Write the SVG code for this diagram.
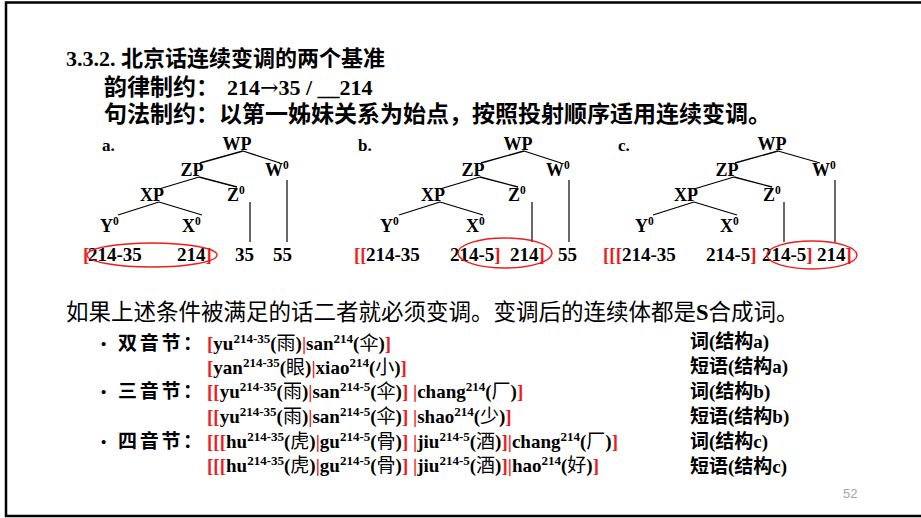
<svg xmlns="http://www.w3.org/2000/svg" width="921" height="518" viewBox="0 0 921 518">
<style>
.t{font-family:"Liberation Serif","Noto Sans CJK SC",serif;font-weight:bold;fill:#000}
.n{font-weight:normal}
.zh{font-family:"Noto Sans CJK SC",sans-serif}
.r{fill:#ee1c1c}
.tl{font-size:18px}
.num{font-size:19px}
.ex{font-size:19px}
.lab{font-family:"Noto Sans CJK SC",sans-serif;font-weight:bold;font-size:19px;letter-spacing:2.7px}
.sup{font-size:13px}
.s0{font-size:11.5px}
.edge{stroke:#000;stroke-width:1.3;fill:none}
.vl{stroke:#444;stroke-width:1.6;fill:none}
.ring{stroke:#ee1c1c;stroke-width:1.4;fill:none}
</style>
<rect x="0" y="0" width="921" height="518" fill="#fff"/>
<path d="M930 2.5H6V516H930" fill="none" stroke="#000" stroke-width="2.5"/>

<g id="heading">
<text class="t" x="66" y="66" font-size="22">3.3.2. 北京话连续变调的两个基准</text>
<text class="t" x="104" y="95" font-size="23">韵律制约：<tspan font-size="22" x="227">214<tspan font-family="DejaVu Serif, serif" font-weight="normal">→</tspan>35 / __214</tspan></text>
<text class="t" x="104" y="122" font-size="23">句法制约：以第一姊妹关系为始点，按照投射顺序适用连续变调。</text>
</g>

<g id="connectors">
<path class="edge" d="M243 151L200 163M243 151L280 163M199 177L159 189M199 177L237 187M159 202L118 215M159 202L202 215"/>
<path class="vl" d="M250 202V242M287 180V242"/>
<path class="edge" d="M524 151L481 163M524 151L561 163M480 177L440 189M480 177L518 187M440 202L399 215M440 202L483 215"/>
<path class="vl" d="M532 202V242M569 180V242"/>
<path class="edge" d="M778 151L735 163M778 151L820 163M734 177L694 189M734 177L772 187M694 202L653 215M694 202L737 215"/>
<path class="vl" d="M784 202V242M835 180V242"/>
</g>

<g id="tree-a">
<text class="t" x="102" y="151" font-size="17">a.</text>
<g id="a-WP"><text class="t tl" x="237" y="150" text-anchor="middle">WP</text></g>
<g id="a-ZP"><text class="t tl" x="192" y="176" text-anchor="middle">ZP</text></g>
<g id="a-W0"><text class="t tl" x="265" y="176">W<tspan class="s0" dy="-7">0</tspan></text></g>
<g id="a-XP"><text class="t tl" x="152" y="201" text-anchor="middle">XP</text></g>
<g id="a-Z0"><text class="t tl" x="227" y="201">Z<tspan class="s0" dy="-7">0</tspan></text></g>
<g id="a-Y0"><text class="t tl" x="100" y="232">Y<tspan class="s0" dy="-7">0</tspan></text></g>
<g id="a-X0"><text class="t tl" x="182" y="232">X<tspan class="s0" dy="-7">0</tspan></text></g>
<g id="a-row">
<text class="t num r" x="83" y="261">[</text>
<text class="t num" x="88" y="261">214-35</text>
<text class="t num" x="177" y="261">214<tspan class="r">]</tspan></text>
<text class="t num" x="235" y="261">35</text>
<text class="t num" x="273" y="261">55</text>
<ellipse class="ring" cx="152" cy="255" rx="65" ry="12"/>
</g>
</g>

<g id="tree-b">
<text class="t" x="358" y="151" font-size="17">b.</text>
<g id="b-WP"><text class="t tl" x="518" y="150" text-anchor="middle">WP</text></g>
<g id="b-ZP"><text class="t tl" x="473" y="176" text-anchor="middle">ZP</text></g>
<g id="b-W0"><text class="t tl" x="546" y="176">W<tspan class="s0" dy="-7">0</tspan></text></g>
<g id="b-XP"><text class="t tl" x="433" y="201" text-anchor="middle">XP</text></g>
<g id="b-Z0"><text class="t tl" x="508" y="201">Z<tspan class="s0" dy="-7">0</tspan></text></g>
<g id="b-Y0"><text class="t tl" x="380" y="232">Y<tspan class="s0" dy="-7">0</tspan></text></g>
<g id="b-X0"><text class="t tl" x="466" y="232">X<tspan class="s0" dy="-7">0</tspan></text></g>
<g id="b-row">
<text class="t num r" x="354" y="261">[[</text>
<text class="t num" x="366" y="261">214-35</text>
<text class="t num" x="450" y="261">214-5<tspan class="r">]</tspan></text>
<text class="t num" x="510" y="261">214<tspan class="r">]</tspan></text>
<text class="t num" x="558" y="261">55</text>
<ellipse class="ring" cx="505" cy="253" rx="47" ry="15"/>
</g>
</g>

<g id="tree-c">
<text class="t" x="618" y="151" font-size="17">c.</text>
<g id="c-WP"><text class="t tl" x="772" y="150" text-anchor="middle">WP</text></g>
<g id="c-ZP"><text class="t tl" x="727" y="176" text-anchor="middle">ZP</text></g>
<g id="c-W0"><text class="t tl" x="812" y="176">W<tspan class="s0" dy="-7">0</tspan></text></g>
<g id="c-XP"><text class="t tl" x="686" y="201" text-anchor="middle">XP</text></g>
<g id="c-Z0"><text class="t tl" x="763" y="201">Z<tspan class="s0" dy="-7">0</tspan></text></g>
<g id="c-Y0"><text class="t tl" x="635" y="232">Y<tspan class="s0" dy="-7">0</tspan></text></g>
<g id="c-X0"><text class="t tl" x="720" y="232">X<tspan class="s0" dy="-7">0</tspan></text></g>
<g id="c-row">
<text class="t num r" x="603" y="261">[[[</text>
<text class="t num" x="622" y="261">214-35</text>
<text class="t num" x="706" y="261">214-5<tspan class="r">]</tspan></text>
<text class="t num" x="762" y="261">214-5<tspan class="r">]</tspan></text>
<text class="t num" x="817" y="261">214<tspan class="r">]</tspan></text>
<ellipse class="ring" cx="812" cy="255" rx="45" ry="14"/>
</g>
</g>

<g id="statement">
<text class="t n" x="66" y="320" font-size="22.5">如果上述条件被满足的话二者就必须变调。变调后的连续体都是<tspan font-family="Liberation Serif, serif" font-weight="bold">S</tspan>合成词。</text>
</g>

<g id="examples">
<text class="t" x="101" y="349" font-size="15">•</text>
<text class="lab" x="118" y="350">双音节：</text>
<text class="t" x="101" y="397" font-size="15">•</text>
<text class="lab" x="118" y="398">三音节：</text>
<text class="t" x="101" y="447" font-size="15">•</text>
<text class="lab" x="118" y="448">四音节：</text>

<text class="t ex" x="207" y="350"><tspan class="r">[</tspan>yu<tspan class="sup" dy="-7">214-35</tspan><tspan dy="7">(</tspan><tspan class="zh n">雨</tspan>)<tspan class="r">|</tspan>san<tspan class="sup" dy="-7">214</tspan><tspan dy="7">(</tspan><tspan class="zh n">伞</tspan>)<tspan class="r">]</tspan></text>
<text class="t ex" x="207" y="374"><tspan class="r">[</tspan>yan<tspan class="sup" dy="-7">214-35</tspan><tspan dy="7">(</tspan><tspan class="zh n">眼</tspan>)<tspan class="r">|</tspan>xiao<tspan class="sup" dy="-7">214</tspan><tspan dy="7">(</tspan><tspan class="zh n">小</tspan>)<tspan class="r">]</tspan></text>
<text class="t ex" x="207" y="398"><tspan class="r">[[</tspan>yu<tspan class="sup" dy="-7">214-35</tspan><tspan dy="7">(</tspan><tspan class="zh n">雨</tspan>)<tspan class="r">|</tspan>san<tspan class="sup" dy="-7">214-5</tspan><tspan dy="7">(</tspan><tspan class="zh n">伞</tspan>)<tspan class="r">]</tspan> <tspan class="r">|</tspan>chang<tspan class="sup" dy="-7">214</tspan><tspan dy="7">(</tspan><tspan class="zh n">厂</tspan>)<tspan class="r">]</tspan></text>
<text class="t ex" x="207" y="423"><tspan class="r">[[</tspan>yu<tspan class="sup" dy="-7">214-35</tspan><tspan dy="7">(</tspan><tspan class="zh n">雨</tspan>)<tspan class="r">|</tspan>san<tspan class="sup" dy="-7">214-5</tspan><tspan dy="7">(</tspan><tspan class="zh n">伞</tspan>)<tspan class="r">]</tspan> <tspan class="r">|</tspan>shao<tspan class="sup" dy="-7">214</tspan><tspan dy="7">(</tspan><tspan class="zh n">少</tspan>)<tspan class="r">]</tspan></text>
<text class="t ex" x="207" y="448"><tspan class="r">[[[</tspan>hu<tspan class="sup" dy="-7">214-35</tspan><tspan dy="7">(</tspan><tspan class="zh n">虎</tspan>)<tspan class="r">|</tspan>gu<tspan class="sup" dy="-7">214-5</tspan><tspan dy="7">(</tspan><tspan class="zh n">骨</tspan>)<tspan class="r">]</tspan> <tspan class="r">|</tspan>jiu<tspan class="sup" dy="-7">214-5</tspan><tspan dy="7">(</tspan><tspan class="zh n">酒</tspan>)<tspan class="r">]|</tspan>chang<tspan class="sup" dy="-7">214</tspan><tspan dy="7">(</tspan><tspan class="zh n">厂</tspan>)<tspan class="r">]</tspan></text>
<text class="t ex" x="207" y="472"><tspan class="r">[[[</tspan>hu<tspan class="sup" dy="-7">214-35</tspan><tspan dy="7">(</tspan><tspan class="zh n">虎</tspan>)<tspan class="r">|</tspan>gu<tspan class="sup" dy="-7">214-5</tspan><tspan dy="7">(</tspan><tspan class="zh n">骨</tspan>)<tspan class="r">]</tspan> <tspan class="r">|</tspan>jiu<tspan class="sup" dy="-7">214-5</tspan><tspan dy="7">(</tspan><tspan class="zh n">酒</tspan>)<tspan class="r">]|</tspan>hao<tspan class="sup" dy="-7">214</tspan><tspan dy="7">(</tspan><tspan class="zh n">好</tspan>)<tspan class="r">]</tspan></text>

<text class="t ex" x="690" y="348">词(结构a)</text>
<text class="t ex" x="690" y="373">短语(结构a)</text>
<text class="t ex" x="690" y="398">词(结构b)</text>
<text class="t ex" x="690" y="423">短语(结构b)</text>
<text class="t ex" x="690" y="448">词(结构c)</text>
<text class="t ex" x="690" y="473">短语(结构c)</text>
</g>

<text x="843" y="498" font-family="Liberation Sans, sans-serif" font-size="13" fill="#a6a6a6">52</text>
</svg>
